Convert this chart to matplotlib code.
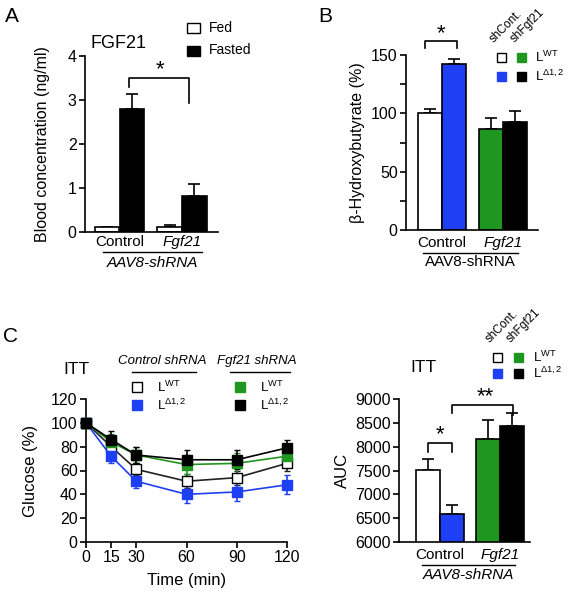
import matplotlib
matplotlib.use('Agg')
import matplotlib.pyplot as plt
from matplotlib.patches import Rectangle
from matplotlib.lines import Line2D

plt.rcParams['font.family'] = ['Liberation Sans', 'DejaVu Sans']
plt.rcParams['mathtext.fontset'] = 'custom'
plt.rcParams['mathtext.rm'] = 'Liberation Sans'
plt.rcParams['mathtext.it'] = 'Liberation Sans:italic'

W, H = 569, 601

BLUE = '#1f3ff5'
GREEN = '#1f961f'

# panel A: FGF21 blood concentration
a_groups = ['Control', 'Fgf21']
a_fed = [0.12, 0.12]
a_fed_err = [0.0, 0.03]
a_fasted = [2.80, 0.82]
a_fasted_err = [0.33, 0.26]

# panel B: beta-hydroxybutyrate
b_groups = ['Control', 'Fgf21']
b_wt = [100, 87]
b_wt_err = [4, 9]
b_ko = [142, 93]
b_ko_err = [5, 9]

# panel C: ITT time course
c_time = [0, 15, 30, 60, 90, 120]
c_ctrl_wt = [100, 80, 61, 51, 54, 66]
c_ctrl_wt_err = [0, 5, 5, 6, 6, 6]
c_ctrl_ko = [100, 72, 51, 40, 42, 48]
c_ctrl_ko_err = [0, 6, 6, 7, 8, 8]
c_fgf_wt = [100, 84, 73, 65, 66, 72]
c_fgf_wt_err = [0, 7, 7, 8, 9, 8]
c_fgf_ko = [100, 86, 73, 69, 69, 79]
c_fgf_ko_err = [0, 7, 7, 8, 8, 7]

# panel D: ITT AUC
d_groups = ['Control', 'Fgf21']
d_wt = [7520, 8170]
d_wt_err = [230, 390]
d_ko = [6580, 8430]
d_ko_err = [200, 270]


def box(l, t, r, b):
    return [l / W, 1 - b / H, (r - l) / W, (b - t) / H]


def style(ax):
    for s in ['top', 'right']:
        ax.spines[s].set_visible(False)
    for s in ['left', 'bottom']:
        ax.spines[s].set_linewidth(1.2)
    ax.tick_params(axis='y', direction='out', length=4, width=1.2, labelsize=11.5, pad=2)
    ax.tick_params(axis='x', length=0, labelsize=11.5)


def bars(ax, x, vals, errs, color):
    ax.bar(x, vals, width=0.39, color=color, edgecolor='black', linewidth=1.2, zorder=2)
    ax.errorbar(x, vals, yerr=[[0] * len(errs), errs], fmt='none', ecolor='black',
                elinewidth=1.2, capsize=4.5, capthick=1.2, zorder=1)


def group_labels(ax, names, y_lab, y_line, x_line, y_sub, sub, sub_italic):
    tr = ax.get_xaxis_transform()
    ax.set_xticks([])
    for i, n in enumerate(names):
        ax.text(i, y_lab, n, transform=tr, ha='center', va='center', fontsize=11,
                style='italic' if n == 'Fgf21' else 'normal')
    ax.plot(x_line, [y_line, y_line], transform=tr, color='black', lw=1, clip_on=False)
    ax.text(sum(x_line) / 2, y_sub, sub, transform=tr, ha='center', va='center', fontsize=11,
            style='italic' if sub_italic else 'normal')


def bracket(ax, x0, x1, top, d0, d1, label, xs, ys):
    ax.plot([x0, x0, x1, x1], [d0, top, top, d1], color='black', lw=1.2, clip_on=False)
    ax.text(xs, ys, label, ha='center', va='center', fontsize=16)


fig = plt.figure(figsize=(W / 100, H / 100), dpi=100)

# ---------------- A ----------------
ax = fig.add_axes(box(85, 56, 218, 232))
style(ax)
xs = range(len(a_groups))
bars(ax, [x - 0.2 for x in xs], a_fed, a_fed_err, 'white')
bars(ax, [x + 0.2 for x in xs], a_fasted, a_fasted_err, 'black')
ax.set_xlim(-0.56, 1.58)
ax.set_ylim(0, 4)
ax.set_yticks([0, 1, 2, 3, 4])
ax.set_ylabel('Blood concentration (ng/ml)', fontsize=11.5)
ax.yaxis.set_label_coords(-0.265, 0.5)
group_labels(ax, a_groups, -0.057, -0.114, [-0.27, 1.32], -0.178, 'AAV8-shRNA', True)
bracket(ax, 0.15, 1.12, 3.5, 3.3, 2.93, '*', 0.65, 3.68)
fig.text(90 / W, 1 - 43 / H, 'FGF21', fontsize=13, va='center', ha='left')
for yy, c, lab in [(28, 'white', 'Fed'), (50.5, 'black', 'Fasted')]:
    fig.add_artist(Rectangle(((187) / W, 1 - (yy + 5) / H), 13 / W, 10 / H,
                             facecolor=c, edgecolor='black', lw=1, transform=fig.transFigure))
    fig.text(209 / W, 1 - yy / H, lab, fontsize=10, va='center', ha='left')
fig.text(5 / W, 1 - 17 / H, 'A', fontsize=15, va='center', ha='left')

# ---------------- B ----------------
ax = fig.add_axes(box(406, 55, 538, 230))
style(ax)
xs = range(len(b_groups))
bars(ax, [x - 0.2 for x in xs], b_wt, b_wt_err, ['white', GREEN])
bars(ax, [x + 0.2 for x in xs], b_ko, b_ko_err, [BLUE, 'black'])
ax.set_xlim(-0.59, 1.57)
ax.set_ylim(0, 150)
ax.set_yticks([0, 50, 100, 150])
ax.set_yticks([25, 75, 125], minor=True)
ax.tick_params(axis='y', which='minor', length=4, width=1.2)
ax.set_ylabel('\u03b2-Hydroxybutyrate (%)', fontsize=11.5)
ax.yaxis.set_label_coords(-0.31, 0.5)
group_labels(ax, b_groups, -0.074, -0.131, [-0.31, 1.25], -0.183, 'AAV8-shRNA', False)
bracket(ax, -0.28, 0.25, 162, 156, 156, '*', -0.02, 168)
fig.text(318 / W, 1 - 17 / H, 'B', fontsize=15, va='center', ha='left')


def sq_legend(cx, rows, tx, heads, size=9):
    for (yy, cols, lab) in rows:
        for x, c in zip(cx, cols):
            fig.add_artist(Rectangle(((x - size / 2) / W, 1 - (yy + size / 2) / H), size / W, size / H,
                                     facecolor=c, edgecolor='black' if c == 'white' else c,
                                     lw=1, transform=fig.transFigure))
        fig.text(tx / W, 1 - yy / H, lab, fontsize=9.5, va='center', ha='left')
    for (hx, hy, lab) in heads:
        fig.text(hx / W, 1 - hy / H, lab, fontsize=8.5, rotation=45, va='bottom', ha='left',
                 rotation_mode='anchor')


sq_legend([501, 521], [(57.5, ['white', GREEN], 'L$^{\\rm WT}$'),
                       (76, [BLUE, 'black'], 'L$^{\\Delta\\rm 1,2}$')], 535,
          [(496, 45, 'shCont.'), (517, 45, 'shFgf21')])

# ---------------- C ----------------
ax = fig.add_axes(box(86, 399, 287, 542))
style(ax)
ax.tick_params(axis='x', length=4, width=1.2, labelsize=11.5, pad=2)
series = [
    (c_ctrl_wt, c_ctrl_wt_err, 'white', 'black', '#222222'),
    (c_ctrl_ko, c_ctrl_ko_err, BLUE, BLUE, BLUE),
    (c_fgf_wt, c_fgf_wt_err, GREEN, GREEN, GREEN),
    (c_fgf_ko, c_fgf_ko_err, 'black', 'black', 'black'),
]
for vals, errs, fc, ec, lc in series:
    ax.errorbar(c_time, vals, yerr=errs, color=lc, lw=1.2, marker='s', markersize=7,
                markerfacecolor=fc, markeredgecolor=ec, markeredgewidth=1,
                ecolor=lc, elinewidth=1.2, capsize=2.5, clip_on=False, zorder=3)
ax.set_xlim(0, 120)
ax.set_ylim(0, 120)
ax.set_xticks(c_time)
ax.set_yticks(range(0, 121, 20))
ax.set_ylabel('Glucose (%)', fontsize=12)
ax.yaxis.set_label_coords(-0.24, 0.5)
ax.set_xlabel('Time (min)', fontsize=12)
ax.xaxis.set_label_coords(0.5, -0.22)
fig.text(3 / W, 1 - 337 / H, 'C', fontsize=15, va='center', ha='left')
fig.text(63 / W, 1 - 370 / H, 'ITT', fontsize=12.5, va='center', ha='left')
for cxt, lx, lab in [(162, (132, 196), 'Control shRNA'), (257, (230, 290), 'Fgf21 shRNA')]:
    fig.text(cxt / W, 1 - 361 / H, lab, fontsize=9.5, style='italic', va='center', ha='center')
    fig.add_artist(Line2D([lx[0] / W, lx[1] / W], [1 - 372 / H, 1 - 372 / H], color='black', lw=1,
                          transform=fig.transFigure))
for mx, rows in [(137, [(387, 'white', 'black'), (405, BLUE, BLUE)]),
                 (240, [(387, GREEN, GREEN), (405, 'black', 'black')])]:
    for (yy, fc, ec), lab in zip(rows, ['L$^{\\rm WT}$', 'L$^{\\Delta\\rm 1,2}$']):
        fig.add_artist(Line2D([mx / W], [1 - yy / H], marker='s', markersize=7, markerfacecolor=fc,
                              markeredgecolor=ec, markeredgewidth=1, transform=fig.transFigure))
        fig.text((mx + 20) / W, 1 - yy / H, lab, fontsize=9.5, va='center', ha='left')

# ---------------- D ----------------
ax = fig.add_axes(box(399, 399, 530, 542))
style(ax)
xs = range(len(d_groups))
bars(ax, [x - 0.2 for x in xs], d_wt, d_wt_err, ['white', GREEN])
bars(ax, [x + 0.2 for x in xs], d_ko, d_ko_err, [BLUE, 'black'])
ax.set_xlim(-0.68, 1.5)
ax.set_ylim(6000, 9000)
ax.set_yticks(range(6000, 9001, 500))
ax.set_ylabel('AUC', fontsize=12)
ax.yaxis.set_label_coords(-0.374, 0.5)
group_labels(ax, d_groups, -0.091, -0.161, [-0.3, 1.25], -0.23, 'AAV8-shRNA', True)
bracket(ax, -0.2, 0.2, 8077, 7888, 7888, '*', 0.0, 8250)
bracket(ax, 0.2, 1.22, 8874, 8706, 8664, '**', 0.75, 9050)
fig.text(410 / W, 1 - 368 / H, 'ITT', fontsize=12.5, va='center', ha='left')
sq_legend([497, 518], [(357, ['white', GREEN], 'L$^{\\rm WT}$'),
                       (373, [BLUE, 'black'], 'L$^{\\Delta\\rm 1,2}$')], 533,
          [(492, 345, 'shCont.'), (513, 345, 'shFgf21')])

fig.savefig('out.png', dpi=100)
